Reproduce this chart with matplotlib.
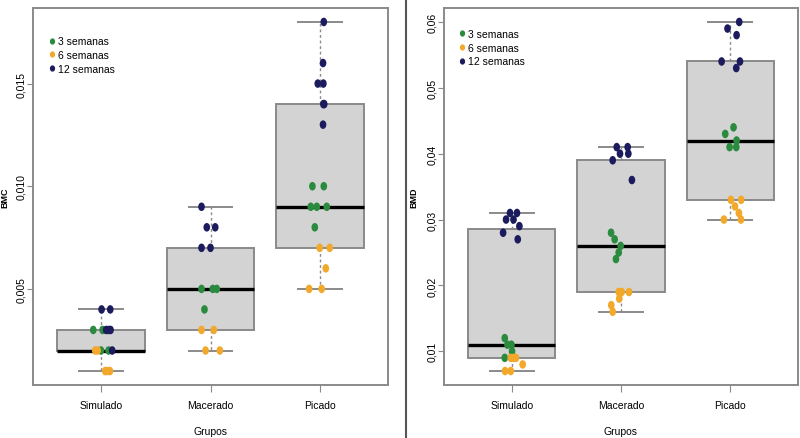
import numpy as np
import matplotlib
matplotlib.use("Agg")
from matplotlib import pyplot as plt
from matplotlib.markers import MarkerStyle
from matplotlib.transforms import Affine2D
from matplotlib.lines import Line2D

plt.rcParams['font.family'] = ['Liberation Sans', 'DejaVu Sans']

groups = ["Simulado", "Macerado", "Picado"]
times = ["3 semanas", "6 semanas", "12 semanas"]
colors = ["#2a8a3e", "#f2a82a", "#1b1b5e"]

# box statistics (low whisker, Q1, median, Q3, high whisker)
bmc_lo = [0.001, 0.002, 0.005]
bmc_q1 = [0.002, 0.003, 0.007]
bmc_med = [0.002, 0.005, 0.009]
bmc_q3 = [0.003, 0.007, 0.014]
bmc_hi = [0.004, 0.009, 0.018]

bmd_lo = [0.007, 0.016, 0.030]
bmd_q1 = [0.009, 0.019, 0.033]
bmd_med = [0.011, 0.026, 0.042]
bmd_q3 = [0.0285, 0.039, 0.054]
bmd_hi = [0.031, 0.041, 0.060]

# BMC points, one list per group (Simulado, Macerado, Picado)
bmc_3sem = [[0.003, 0.003, 0.002, 0.002],
            [0.005, 0.005, 0.005, 0.004],
            [0.010, 0.010, 0.009, 0.009, 0.009, 0.008]]
bmc_6sem = [[0.002, 0.002, 0.001, 0.001, 0.001],
            [0.003, 0.003, 0.002, 0.002],
            [0.007, 0.007, 0.006, 0.005, 0.005]]
bmc_12sem = [[0.004, 0.004, 0.003, 0.003, 0.003, 0.002],
             [0.009, 0.008, 0.008, 0.007, 0.007],
             [0.018, 0.016, 0.015, 0.015, 0.014, 0.014, 0.013]]
# horizontal jitter of each point (in group units)
bmc_3sem_jit = [[-0.07, 0.015, 0.0, 0.07],
                [-0.082, 0.021, 0.057, -0.055],
                [-0.07, 0.034, -0.085, -0.03, 0.061, -0.048]]
bmc_6sem_jit = [[-0.052, -0.03, 0.039, 0.057, 0.082],
                [-0.082, 0.03, -0.045, 0.085],
                [-0.003, 0.088, 0.052, -0.1, 0.015]]
bmc_12sem_jit = [[0.006, 0.085, 0.048, 0.07, 0.088, 0.103],
                 [-0.082, -0.034, 0.043, -0.082, 0.0],
                 [0.034, 0.027, -0.021, 0.03, 0.03, 0.038, 0.027]]

# BMD points
bmd_3sem = [[0.012, 0.011, 0.011, 0.010, 0.009],
            [0.028, 0.027, 0.026, 0.025, 0.024],
            [0.044, 0.043, 0.042, 0.041, 0.041]]
bmd_6sem = [[0.009, 0.009, 0.009, 0.008, 0.007, 0.007],
            [0.019, 0.019, 0.019, 0.018, 0.017, 0.016],
            [0.033, 0.033, 0.032, 0.031, 0.030, 0.030]]
bmd_12sem = [[0.031, 0.031, 0.030, 0.030, 0.029, 0.028, 0.027],
             [0.041, 0.041, 0.040, 0.040, 0.039, 0.036],
             [0.060, 0.059, 0.058, 0.054, 0.054, 0.053]]
bmd_3sem_jit = [[-0.064, -0.039, -0.003, 0.003, -0.064],
                [-0.091, -0.058, -0.003, -0.021, -0.046],
                [0.03, -0.046, 0.058, -0.006, 0.055]]
bmd_6sem_jit = [[-0.009, 0.016, 0.039, 0.1, -0.061, -0.009],
                [-0.021, 0.006, 0.073, -0.016, -0.089, -0.076],
                [0.006, 0.1, 0.043, 0.079, -0.058, 0.098]]
bmd_12sem_jit = [[-0.016, 0.048, -0.052, 0.016, 0.07, -0.079, 0.055],
                 [-0.039, 0.061, -0.009, 0.067, -0.076, 0.1],
                 [0.082, -0.025, 0.058, -0.079, 0.089, 0.055]]

bmc_ticks = [0.005, 0.010, 0.015]
bmc_ticklabels = ["0,005", "0,010", "0,015"]
bmd_ticks = [0.01, 0.02, 0.03, 0.04, 0.05, 0.06]
bmd_ticklabels = ["0,01", "0,02", "0,03", "0,04", "0,05", "0,06"]

fig = plt.figure(figsize=(8, 4.39), dpi=100)
ax1 = fig.add_axes([33/800, 53/439, 355/800, 377/439])
ax2 = fig.add_axes([444/800, 53/439, 354/800, 377/439])

dot = MarkerStyle("o", transform=Affine2D().scale(0.78, 1.0))
pos = np.arange(1, 4)


def panel(ax, lo, q1, med, q3, hi, series, jits, ticks, ticklabels, ylabel, leg_xy, ylab_x):
    stats = [dict(whislo=lo[i], q1=q1[i], med=med[i], q3=q3[i], whishi=hi[i], fliers=[])
             for i in range(3)]
    ax.bxp(stats, positions=pos, widths=0.8, patch_artist=True, showfliers=False,
           boxprops=dict(facecolor="#d3d3d3", edgecolor="#8a8a8a", linewidth=1.4),
           medianprops=dict(color="black", linewidth=2.4),
           whiskerprops=dict(color="#8a8a8a", linewidth=1.0, linestyle=(0, (2, 2))),
           capprops=dict(color="#8a8a8a", linewidth=1.4), capwidths=0.4)
    for vals, jit, c in zip(series, jits, colors):
        for g in range(3):
            ax.scatter(pos[g] + np.array(jit[g]), vals[g], s=38, marker=dot,
                       color=c, edgecolors="none", zorder=4)
    ymin = min(lo)
    ymax = max(hi)
    pad = 0.04 * (ymax - ymin)
    ax.set_ylim(ymin - pad, ymax + pad)
    ax.set_xlim(0.38, 3.62)
    ax.set_yticks(ticks)
    ax.set_yticklabels(ticklabels, rotation=90, va="center", fontsize=7.5)
    ax.set_xticks(pos)
    ax.set_xticklabels(groups, fontsize=7.5)
    ax.tick_params(axis="y", length=4, color="#8a8a8a", pad=1)
    ax.tick_params(axis="x", length=5, color="#8a8a8a", pad=6)
    for s in ax.spines.values():
        s.set_color("#8a8a8a")
        s.set_linewidth(1.4)
    ax.set_xlabel("Grupos", fontsize=7.5, labelpad=11)
    ax.set_ylabel(ylabel, fontsize=6.5, fontweight="bold")
    ax.yaxis.set_label_coords(ylab_x, 0.5)
    handles = [Line2D([], [], marker=dot, linestyle="none", color=c, markersize=3.5)
               for c in colors]
    ax.legend(handles, times, loc="upper left", bbox_to_anchor=leg_xy, frameon=False,
              fontsize=7.5, handlelength=0.6, handletextpad=0.3, labelspacing=0.35,
              borderpad=0, borderaxespad=0)


panel(ax1, bmc_lo, bmc_q1, bmc_med, bmc_q3, bmc_hi,
      [bmc_3sem, bmc_6sem, bmc_12sem], [bmc_3sem_jit, bmc_6sem_jit, bmc_12sem_jit],
      bmc_ticks, bmc_ticklabels, "BMC", (0.045, 0.925), -0.066)
panel(ax2, bmd_lo, bmd_q1, bmd_med, bmd_q3, bmd_hi,
      [bmd_3sem, bmd_6sem, bmd_12sem], [bmd_3sem_jit, bmd_6sem_jit, bmd_12sem_jit],
      bmd_ticks, bmd_ticklabels, "BMD", (0.042, 0.944), -0.072)

# separator between the two panels
fig.add_artist(Line2D([405.5/800, 405.5/800], [0, 1], transform=fig.transFigure,
                      color="#555555", linewidth=1.5))

fig.savefig("out.png", dpi=100)
